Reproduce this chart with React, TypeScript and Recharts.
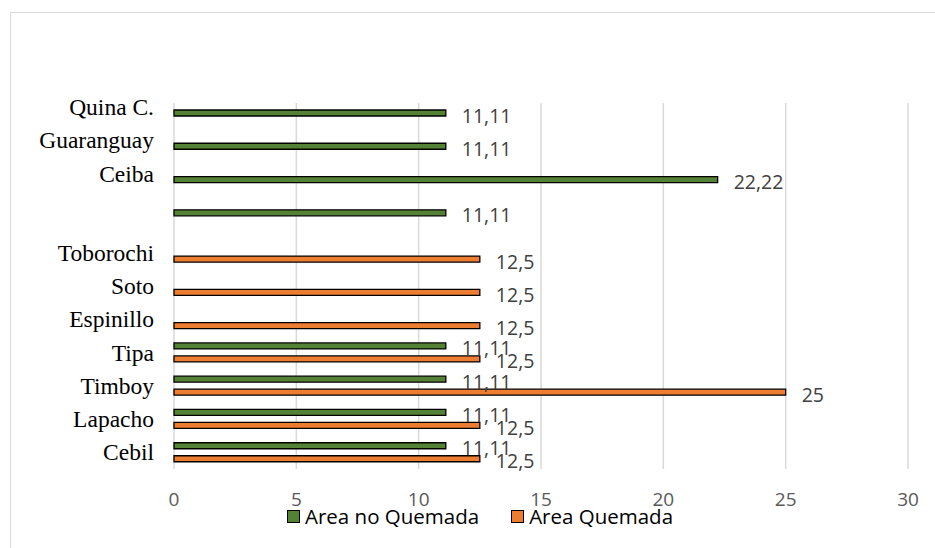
import { BarChart, Bar, XAxis, YAxis, CartesianGrid, Legend, LabelList } from 'recharts';

// species, listed bottom to top (axis is reversed)
const species = [
  'Cebil',
  'Lapacho',
  'Timboy',
  'Tipa',
  'Espinillo',
  'Soto',
  'Toborochi',
  ' ',
  'Ceiba\n',
  'Guaranguay\n',
  'Quina C.\n',
];

const noQuemada = [11.11, 11.11, 11.11, 11.11, null, null, null, 11.11, 22.22, 11.11, 11.11];
const quemada = [12.5, 12.5, 25, 12.5, 12.5, 12.5, 12.5, null, null, null, null];

const xTicks = [0, 5, 10, 15, 20, 25, 30];

const GREEN = '#548235';
const ORANGE = '#ED7D31';

const data = species.map((name, i) => ({
  name,
  noQuemada: noQuemada[i],
  quemada: quemada[i],
}));

const fmt = (v: number) => String(v).replace('.', ',');

// y-axis labels may carry line breaks; the block of lines is centred on the tick
const SpeciesTick = (props: any) => {
  const { x, y, payload } = props;
  const lines = String(payload.value).split('\n');
  const lh = 25;
  const top = y - ((lines.length - 1) * lh) / 2;
  return (
    <text
      x={x}
      y={top}
      textAnchor="end"
      fontFamily="'Liberation Serif', 'Times New Roman', serif"
      fontSize={23.5}
      fill="#000"
    >
      {lines.map((l, i) => (
        <tspan key={i} x={x} y={top + i * lh} dominantBaseline="central">
          {l}
        </tspan>
      ))}
    </text>
  );
};

const ValueLabel = (props: any) => {
  const { x, y, width, height, value } = props;
  if (value == null) return null;
  return (
    <text
      x={x + width + 16}
      y={y + height / 2 + 2}
      dominantBaseline="central"
      fontFamily="'Open Sans', sans-serif"
      fontSize={19.5}
      fill="#404040"
    >
      {fmt(value)}
    </text>
  );
};

const legendItems = [
  { label: 'Area no Quemada', color: GREEN },
  { label: 'Area Quemada', color: ORANGE },
];

const LegendBox = () => (
  <div style={{ display: 'flex', alignItems: 'center', fontFamily: "'Open Sans', sans-serif", fontSize: 20.5, color: '#000', whiteSpace: 'nowrap' }}>
    {legendItems.map((it, i) => (
      <div key={it.label} style={{ display: 'flex', alignItems: 'center', marginLeft: i ? 32 : 0 }}>
        <span
          style={{
            display: 'inline-block',
            width: 11,
            height: 11,
            background: it.color,
            border: '1.5px solid #000',
            marginRight: 5,
          }}
        />
        <span style={{ lineHeight: '20px' }}>{it.label}</span>
      </div>
    ))}
  </div>
);

export default function App() {
  return (
    <div style={{ position: 'fixed', left: 0, top: 0, width: 935, height: 548, overflow: 'hidden', background: '#fff' }}>
      <div
        style={{
          position: 'absolute',
          left: 10,
          top: 12,
          width: 940,
          height: 560,
          border: '1px solid #D9D9D9',
        }}
      />
      <BarChart
        width={935}
        height={548}
        data={data}
        layout="vertical"
        margin={{ top: 103, right: 27, bottom: 49, left: 0 }}
        barSize={6}
        barGap={7}
      >
        <CartesianGrid horizontal={false} stroke="#D9D9D9" strokeWidth={1.5} />
        <XAxis
          type="number"
          domain={[0, 30]}
          ticks={xTicks}
          height={30}
          axisLine={false}
          tickLine={false}
          tickMargin={18}
          tick={{ fill: '#595959', fontSize: 19, fontFamily: "'Open Sans', sans-serif" }}
        />
        <YAxis
          type="category"
          dataKey="name"
          reversed
          width={174}
          interval={0}
          axisLine={false}
          tickLine={false}
          tickMargin={14}
          tick={<SpeciesTick />}
        />
        <Legend
          layout="vertical"
          align="center"
          verticalAlign="middle"
          wrapperStyle={{ top: 506, left: 287, width: 'auto' }}
          content={<LegendBox />}
        />
        <Bar dataKey="noQuemada" name="Area no Quemada" fill={GREEN} stroke="#000" strokeWidth={1.3} isAnimationActive={false}>
          <LabelList dataKey="noQuemada" content={<ValueLabel />} />
        </Bar>
        <Bar dataKey="quemada" name="Area Quemada" fill={ORANGE} stroke="#000" strokeWidth={1.3} isAnimationActive={false}>
          <LabelList dataKey="quemada" content={<ValueLabel />} />
        </Bar>
      </BarChart>
    </div>
  );
}
